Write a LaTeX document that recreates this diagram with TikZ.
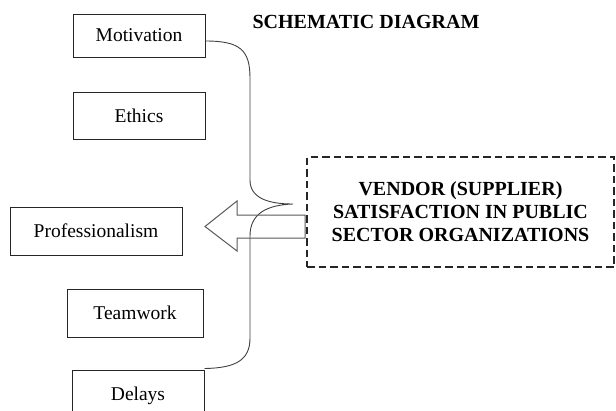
\documentclass[tikz,border=0pt]{standalone}
\usepackage{fontspec}
\setmainfont{Liberation Serif}
\usetikzlibrary{calc}
\begin{document}
\begin{tikzpicture}[x=1pt,y=-1pt,
  factor/.style={draw=black!85,line width=1pt,rectangle,inner sep=0pt,
    font=\fontsize{19.5}{22}\selectfont},
  outcome/.style={draw=black!85,line width=1.7pt,dash pattern=on 7.5pt off 4pt,
    rectangle,inner sep=0pt,minimum width=307pt,minimum height=110pt,
    align=center,font=\fontsize{20}{23}\selectfont\bfseries},
  brace/.style={draw=black!75,line width=0.9pt},
  bigarrow/.style={draw=black!65,line width=1pt}]
\clip (0,0) rectangle (616,410);
\fill[white] (0,0) rectangle (616,410);

% title
\node[font=\fontsize{20}{23}\selectfont\bfseries] (title) at (366,22) {SCHEMATIC DIAGRAM};

% factor boxes
\node[factor,minimum width=132pt,minimum height=43pt] (mot) at (139,35.5) {Motivation};
\node[factor,minimum width=132pt,minimum height=47pt] (eth) at (139,115.5) {Ethics};
\node[factor,minimum width=172pt,minimum height=48pt] (pro) at (96,231) {Professionalism};
\node[factor,minimum width=136pt,minimum height=48pt] (tea) at (135,313) {Teamwork};
\node[factor,minimum width=132pt,minimum height=52pt] (del) at (138,396) {Delays};

% outcome box
\node[outcome] (ven) at (460.5,212) {VENDOR (SUPPLIER)\\SATISFACTION IN PUBLIC\\SECTOR ORGANIZATIONS};

% curly brace grouping the factors
\coordinate (btop) at ($(mot.east)+(0,5.5)$);
\coordinate (bbot) at ($(del.north east)+(0,-1)$);
\coordinate (tip) at (293,204);
\draw[brace] (btop) .. controls (240,41) and (250,50) .. (250,78)
  -- (250,180) .. controls (250,198) and (268,204) .. (tip)
  .. controls (266,205) and (250,214) .. (250,236)
  -- (250,338) .. controls (250,360) and (236,368) .. (bbot);

% block arrow from the outcome box towards the factors
\draw[bigarrow] ($(ven.west)+(-1,3)$) -- (237,215) -- (237,201) -- (205,226.5)
  -- (237,251) -- (237,238) -- ($(ven.west)+(-1,26)$) -- cycle;
\end{tikzpicture}
\end{document}
